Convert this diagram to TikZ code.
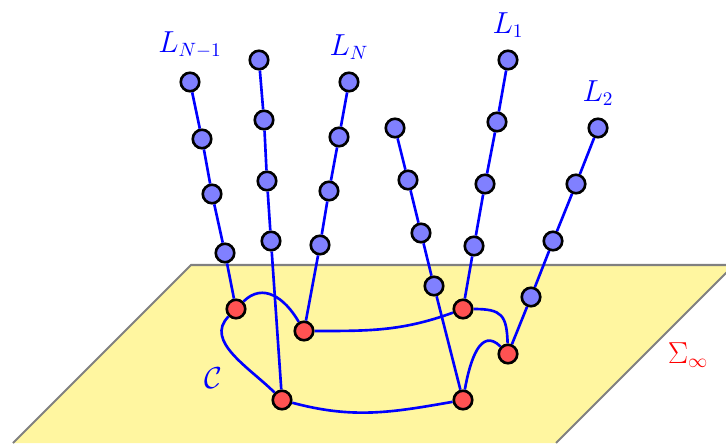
\documentclass[tikz,border=0pt]{standalone}
\usepackage{amsmath}
\usepackage{amssymb}
\usepackage{tikz}
\definecolor{planeyellow}{RGB}{255,246,160}
\definecolor{beadblue}{RGB}{128,128,255}
\definecolor{beadred}{RGB}{255,82,82}

\begin{document}
\begin{tikzpicture}[font=\fontsize{16}{19}\selectfont,
 bead/.style={circle,draw=black,line width=1.5pt,fill=beadblue,inner sep=0pt,minimum size=0.37cm},
 redbead/.style={bead,fill=beadred},
 chain/.style={blue,line width=1.5pt},
 lab/.style={blue}]
\useasboundingbox (0,0) rectangle (14.52,8.86);
\begin{scope}
 \clip (0,0) rectangle (14.52,8.86);
 \fill[planeyellow] (3.82,3.56) -- (14.68,3.56) -- (11.12,0) -- (0.26,0) -- cycle;
 \draw[gray,line width=1.2pt] (0.26,0) -- (3.82,3.56) -- (14.68,3.56) -- (11.12,0);
\end{scope}
% points of the curve on the plane
\node[redbead] (r1) at (4.72,2.68) {};
\node[redbead] (r2) at (6.08,2.24) {};
\node[redbead] (r3) at (9.26,2.68) {};
\node[redbead] (r4) at (10.16,1.78) {};
\node[redbead] (r5) at (9.26,0.86) {};
\node[redbead] (r6) at (5.64,0.86) {};
% the chains above it
\foreach \c/\p/\q/\r/\s in {a/{3.80,7.22}/{4.04,6.08}/{4.24,4.98}/{4.50,3.80},
 b/{5.18,7.66}/{5.28,6.46}/{5.34,5.24}/{5.42,4.04},
 c/{6.98,7.22}/{6.78,6.12}/{6.58,5.04}/{6.40,3.96},
 d/{7.90,6.30}/{8.16,5.26}/{8.42,4.20}/{8.68,3.14},
 e/{10.16,7.66}/{9.94,6.42}/{9.70,5.18}/{9.48,3.94},
 f/{11.96,6.30}/{11.52,5.18}/{11.06,4.04}/{10.62,2.92}} {
 \node[bead] (\c1) at (\p) {};
 \node[bead] (\c2) at (\q) {};
 \node[bead] (\c3) at (\r) {};
 \node[bead] (\c4) at (\s) {};
}
\foreach \c/\e in {a/r1,b/r6,c/r2,d/r5,e/r3,f/r4} {
 \draw[chain] (\c1) -- (\c2) -- (\c3) -- (\c4) -- (\e);
}
\draw[chain] (r1) to[out=45,in=120,looseness=1.2] (r2)
 to[out=0,in=200] (r3)
 to[out=0,in=92,looseness=1.5] (r4)
 to[out=135,in=80,looseness=1.3] (r5)
 to[out=190,in=-15] (r6)
 to[out=135,in=225] (r1);
\node[lab] (lNm1) at (3.80,7.96) {$L_{N-1}$};
\node[lab] (lN) at (6.98,7.92) {$L_N$};
\node[lab] (l1) at (10.16,8.36) {$L_1$};
\node[lab] (l2) at (11.96,7.00) {$L_2$};
\node[lab] (curve) at (4.26,1.30) {$\mathcal{C}$};
\node[red] (sigma) at (13.76,1.76) {$\Sigma_\infty$};
\end{tikzpicture}
\end{document}
